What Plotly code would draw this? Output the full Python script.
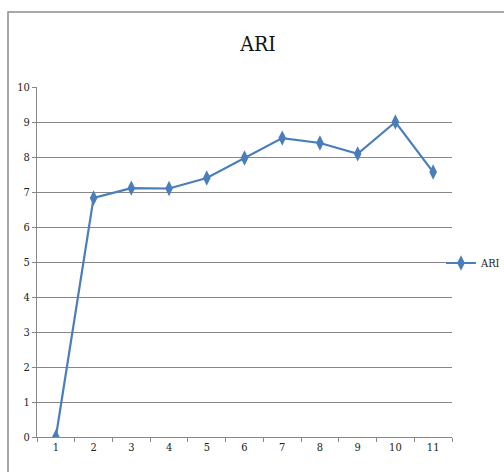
import plotly.graph_objects as go

# ARI score per run
runs = ["1", "2", "3", "4", "5", "6", "7", "8", "9", "10", "11"]
ari = [0.0, 6.83, 7.11, 7.1, 7.4, 7.97, 8.54, 8.4, 8.09, 9.0, 7.57]
y_ticks = [0, 1, 2, 3, 4, 5, 6, 7, 8, 9, 10]

W, H = 504, 472
L, R, T, B = 37, 52, 87, 35
pw, ph = W - L - R, H - T - B

font_family = "DejaVu Serif Condensed, Liberation Serif, serif"
grid = "#878787"
blue = "#4A7EBB"

fig = go.Figure()
fig.add_trace(go.Scatter(
    x=runs, y=ari, name="ARI", mode="lines+markers",
    line=dict(color=blue, width=2.2),
    marker=dict(symbol="diamond-tall", size=11, color=blue),
))

# outer chart frame
fig.add_shape(
    type="rect", xref="paper", yref="paper",
    x0=(8 - L) / pw, x1=(W + 20 - L) / pw,
    y0=-(B + 20) / ph, y1=(H - 12 - B) / ph,
    line=dict(color="#8c8c8c", width=1.5), fillcolor="rgba(0,0,0,0)",
    layer="below",
)

fig.update_layout(
    width=W, height=H,
    margin=dict(l=L, r=R, t=T, b=B, autoexpand=False),
    paper_bgcolor="white", plot_bgcolor="white",
    font=dict(family=font_family, size=11, color="#222"),
    title=dict(text="ARI", x=(258 - L) / pw, xref="paper", xanchor="center",
               y=1 - 44 / H, yanchor="middle",
               font=dict(family=font_family, size=21, color="#111")),
    showlegend=True,
    legend=dict(xref="container", yref="container",
                x=441 / W, y=1 - 263 / H, xanchor="left", yanchor="middle",
                bgcolor="rgba(0,0,0,0)", font=dict(size=11),
                itemwidth=30, tracegroupgap=0),
    xaxis=dict(
        type="category", tickson="boundaries", ticks="outside", ticklen=4,
        tickcolor=grid, showline=True, linecolor=grid, linewidth=1,
        showgrid=False, range=[-0.5, 10.5], tickfont=dict(size=11),
        fixedrange=True,
    ),
    yaxis=dict(
        range=[0, 10], tickvals=y_ticks, ticks="outside", ticklen=4,
        tickcolor=grid, showline=True, linecolor=grid, linewidth=1,
        showgrid=True, gridcolor=grid, gridwidth=1, zeroline=False,
        tickfont=dict(size=11), fixedrange=True,
    ),
)

fig.write_html("out.html")
